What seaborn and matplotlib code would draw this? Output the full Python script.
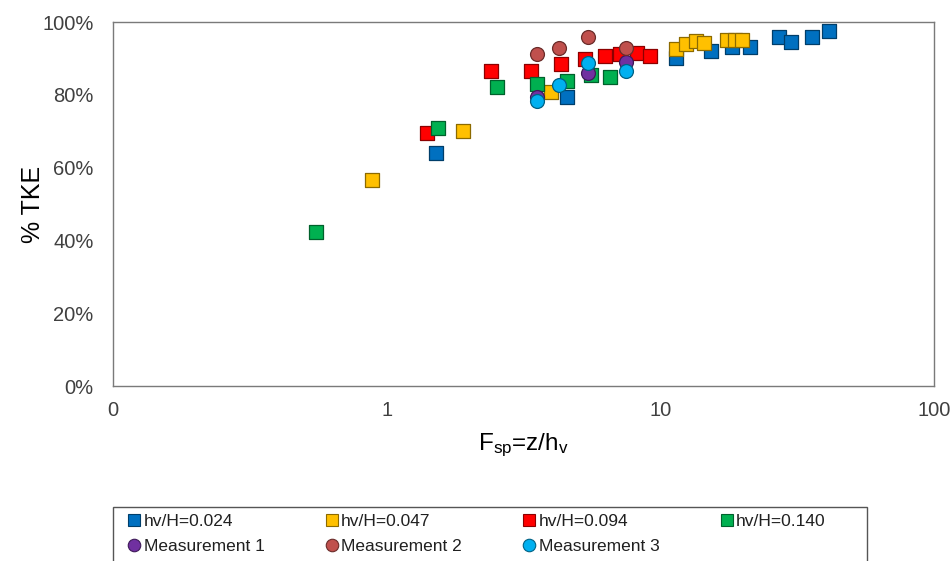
import matplotlib
matplotlib.use("Agg")
import matplotlib.pyplot as plt
import matplotlib.colors as mcolors
import pandas as pd
import seaborn as sns
from matplotlib.lines import Line2D
from matplotlib.patches import Rectangle
from matplotlib.ticker import FixedLocator, FixedFormatter, NullLocator

# Simulated series: F_sp = z/h_v versus % TKE
fsp_024 = [1.51, 4.56, 11.4, 15.3, 18.3, 21.2, 27.1, 30.0, 35.8, 41.3]
tke_024 = [64.0, 79.4, 90.1, 92.0, 93.1, 93.1, 95.9, 94.5, 95.9, 97.5]

fsp_047 = [0.883, 1.90, 3.98, 11.4, 12.4, 13.5, 14.4, 17.5, 18.7, 19.9]
tke_047 = [56.6, 70.0, 80.8, 92.6, 94.0, 94.8, 94.2, 95.1, 95.1, 95.1]

fsp_094 = [1.40, 2.40, 3.37, 4.33, 5.30, 6.28, 7.12, 8.22, 9.17]
tke_094 = [69.5, 86.5, 86.5, 88.5, 89.8, 90.7, 91.2, 91.5, 90.7]

fsp_140 = [0.552, 1.54, 2.53, 3.54, 4.56, 5.58, 6.55]
tke_140 = [42.3, 70.9, 82.1, 83.0, 83.8, 85.4, 84.9]

# Field measurements
fsp_m1 = [3.54, 5.44, 7.49]
tke_m1 = [79.4, 86.0, 89.0]

fsp_m2 = [3.54, 4.26, 5.44, 7.49]
tke_m2 = [91.2, 92.9, 95.9, 92.9]

fsp_m3 = [3.54, 4.26, 5.44, 7.49]
tke_m3 = [78.3, 82.7, 88.7, 86.5]

series_names = ["hv/H=0.024", "hv/H=0.047", "hv/H=0.094", "hv/H=0.140",
                "Measurement 1", "Measurement 2", "Measurement 3"]
series_x = [fsp_024, fsp_047, fsp_094, fsp_140, fsp_m1, fsp_m2, fsp_m3]
series_y = [tke_024, tke_047, tke_094, tke_140, tke_m1, tke_m2, tke_m3]
series_colors = ["#0070C0", "#FFC000", "#FF0000", "#00B050",
                 "#7030A0", "#C0504D", "#00B0F0"]
series_markers = ["s", "s", "s", "s", "o", "o", "o"]

x_ticks = [0.1, 1, 10, 100]
x_tick_labels = ["0", "1", "10", "100"]
y_ticks = [0, 20, 40, 60, 80, 100]
y_tick_labels = ["0%", "20%", "40%", "60%", "80%", "100%"]

sns.set_style("white")
plt.rcParams["font.family"] = ["Liberation Sans", "DejaVu Sans"]
plt.rcParams["mathtext.fontset"] = "custom"
plt.rcParams["mathtext.rm"] = "Liberation Sans"
plt.rcParams["mathtext.it"] = "Liberation Sans"

frames = []
for name, xs, ys in zip(series_names, series_x, series_y):
    frames.append(pd.DataFrame({"series": name, "fsp": xs, "tke": ys}))
df = pd.concat(frames, ignore_index=True)


def darker(c, f=0.55):
    r, g, b = mcolors.to_rgb(c)
    return (r * f, g * f, b * f)


W, H = 951, 561
fig = plt.figure(figsize=(W / 100, H / 100), dpi=100)
ax = fig.add_axes([113 / W, 1 - 386 / H, (934 - 113) / W, (386 - 22) / H])

for name, col, mk in zip(series_names, series_colors, series_markers):
    sub = df[df["series"] == name]
    sns.scatterplot(data=sub, x="fsp", y="tke", ax=ax, color=col, marker=mk,
                    s=100 if mk == "o" else 92, edgecolor=darker(col),
                    linewidth=0.9, legend=False, zorder=3)

ax.set_xscale("log")
ax.set_xlim(0.1, 100)
ax.set_ylim(0, 100)
ax.xaxis.set_major_locator(FixedLocator(x_ticks))
ax.xaxis.set_major_formatter(FixedFormatter(x_tick_labels))
ax.xaxis.set_minor_locator(NullLocator())
ax.yaxis.set_major_locator(FixedLocator(y_ticks))
ax.yaxis.set_major_formatter(FixedFormatter(y_tick_labels))
ax.tick_params(axis="both", length=0, labelsize=14.5, colors="#404040")
ax.tick_params(axis="x", pad=11)
ax.tick_params(axis="y", pad=14)

for sp in ax.spines.values():
    sp.set_color("#7a7a7a")
    sp.set_linewidth(1.0)

ax.set_xlabel(r"F$_{\rm sp}$=z/h$_{\rm v}$", fontsize=17.5, color="black", labelpad=8)
ax.set_ylabel("% TKE", fontsize=18, color="black")
ax.yaxis.set_label_coords(-0.083, 0.5)

# Legend laid out row-wise: simulated series on the first row, measurements on the second
order = [0, 4, 1, 5, 2, 6, 3]
handles = []
for i in order:
    handles.append(Line2D([], [], linestyle="none", marker=series_markers[i],
                          markersize=9, markerfacecolor=series_colors[i],
                          markeredgecolor=darker(series_colors[i]),
                          markeredgewidth=0.8, label=series_names[i]))
leg = fig.legend(handles=handles, ncol=4, loc="upper left",
                 bbox_to_anchor=(121 / W, 1 - 506 / H),
                 frameon=False, fontsize=12.5,
                 handlelength=0.6, handletextpad=0.25, columnspacing=3.57,
                 labelspacing=0.55, borderpad=0.45, borderaxespad=0)
for t in leg.get_texts():
    t.set_color("#202020")

# Legend box, running off the bottom edge of the figure
fig.patches.append(Rectangle((113 / W, -0.02), (867 - 113) / W, 0.02 + (H - 507) / H,
                             transform=fig.transFigure, fill=False,
                             edgecolor="#555555", linewidth=1.0))

fig.savefig("out.png", dpi=100)
